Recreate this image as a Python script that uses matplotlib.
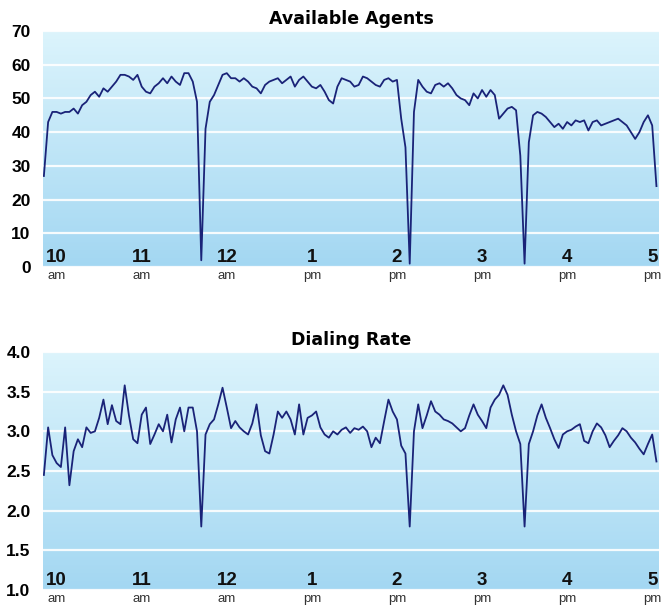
import numpy as np
import matplotlib
matplotlib.use("Agg")
import matplotlib.pyplot as plt
from matplotlib.colors import LinearSegmentedColormap

# sample times, minutes after 10:00 (one reading every 3 minutes)
minutes = list(range(-9, 426, 3))

agents = [27, 43, 46, 46, 45.5, 46, 46, 47, 45.5, 48,
          49, 51, 52, 50.5, 53, 52, 53.5, 55, 57, 57,
          56.5, 55.5, 57, 53.5, 52, 51.5, 53.5, 54.5, 56, 54.5,
          56.5, 55, 54, 57.5, 57.5, 55, 49, 2, 41, 49,
          51, 54, 57, 57.5, 56, 56, 55, 56, 55, 53.5,
          53, 51.5, 54, 55, 55.5, 56, 54.5, 55.5, 56.5, 53.5,
          55.5, 56.5, 55, 53.5, 53, 54, 52, 49.5, 48.5, 53.5,
          56, 55.5, 55, 53.5, 54, 56.5, 56, 55, 54, 53.5,
          55.5, 56, 55, 55.5, 44, 35.5, 1, 46, 55.5, 53.5,
          52, 51.5, 54, 54.5, 53.5, 54.5, 53, 51, 50, 49.5,
          48, 51.5, 50, 52.5, 50.5, 52.5, 51, 44, 45.5, 47,
          47.5, 46.5, 33, 1, 37, 45, 46, 45.5, 44.5, 43,
          41.5, 42.5, 41, 43, 42, 43.5, 43, 43.5, 40.5, 43,
          43.5, 42, 42.5, 43, 43.5, 44, 43, 42, 40, 38,
          40, 43, 45, 42, 24]

rate = [2.45, 3.05, 2.7, 2.6, 2.55, 3.05, 2.32, 2.75, 2.9, 2.8,
        3.05, 2.98, 3.0, 3.17, 3.4, 3.09, 3.33, 3.13, 3.09, 3.58,
        3.2, 2.9, 2.85, 3.21, 3.3, 2.84, 2.96, 3.09, 3.0, 3.21,
        2.86, 3.15, 3.3, 3.0, 3.3, 3.3, 3.0, 1.8, 2.96, 3.09,
        3.15, 3.34, 3.55, 3.3, 3.04, 3.13, 3.05, 3.0, 2.96, 3.1,
        3.34, 2.95, 2.75, 2.72, 2.96, 3.25, 3.17, 3.25, 3.15, 2.96,
        3.34, 2.96, 3.17, 3.2, 3.25, 3.05, 2.96, 2.92, 3.0, 2.96,
        3.02, 3.05, 2.98, 3.04, 3.02, 3.06, 3.0, 2.8, 2.92, 2.85,
        3.13, 3.4, 3.25, 3.15, 2.82, 2.72, 1.8, 3.0, 3.34, 3.04,
        3.2, 3.38, 3.25, 3.21, 3.15, 3.13, 3.1, 3.05, 3.0, 3.04,
        3.2, 3.34, 3.21, 3.13, 3.04, 3.3, 3.4, 3.46, 3.58, 3.46,
        3.21, 3.0, 2.84, 1.8, 2.84, 3.0, 3.2, 3.34, 3.17, 3.04,
        2.9, 2.79, 2.96, 3.0, 3.02, 3.06, 3.09, 2.88, 2.85, 3.0,
        3.1, 3.05, 2.95, 2.8, 2.88, 2.95, 3.04, 3.0, 2.92, 2.86,
        2.78, 2.71, 2.84, 2.96, 2.62]

hour_ticks = [10, 11, 12, 13, 14, 15, 16, 17]
hour_labels = ["10", "11", "12", "1", "2", "3", "4", "5"]
hour_suffix = ["am", "am", "am", "pm", "pm", "pm", "pm", "pm"]

hours = [10 + m / 60 for m in minutes]

LINE = "#1a2378"
bg = LinearSegmentedColormap.from_list("bg", ["#a3d7f2", "#dcf4fc"])
num_font = "Liberation Sans"

fig = plt.figure(figsize=(6.67, 6.07), dpi=100)
ax1 = fig.add_axes([0.0645, 0.5601, 0.9235, 0.3888])
ax2 = fig.add_axes([0.0645, 0.0280, 0.9235, 0.3921])


def style(ax, ylim, yticks, fmt, title):
    grad = np.linspace(0, 1, 256).reshape(-1, 1)
    ax.imshow(grad, cmap=bg, aspect="auto", origin="lower",
              extent=[0, 1, 0, 1], transform=ax.transAxes, zorder=0)
    ax.set_xlim(9.84, 17.08)
    ax.set_ylim(*ylim)
    ax.set_yticks(yticks)
    ax.set_yticklabels([fmt.format(v) for v in yticks],
                       fontfamily=num_font, fontweight="bold", fontsize=12.5)
    ax.tick_params(axis="y", length=0, pad=9)
    ax.set_xticks([])
    for s in ax.spines.values():
        s.set_visible(False)
    ax.set_axisbelow(True)
    ax.yaxis.grid(True, color="white", linewidth=1.6, alpha=0.9)
    ax.set_title(title, fontsize=12.5, fontweight="bold", pad=5)
    for h, lab, suf in zip(hour_ticks, hour_labels, hour_suffix):
        ax.text(h, 0.003, lab, transform=ax.get_xaxis_transform(),
                ha="center", va="bottom", fontfamily=num_font,
                fontweight="bold", fontsize=13.5, color="#111111")
        ax.text(h, -0.012, suf, transform=ax.get_xaxis_transform(),
                ha="center", va="top", fontfamily=num_font,
                fontsize=9.5, color="#333333", clip_on=False)


style(ax1, (0, 70), [0, 10, 20, 30, 40, 50, 60, 70], "{:.0f}", "Available Agents")
ax1.plot(hours, agents, color=LINE, linewidth=1.3, zorder=3)

style(ax2, (1.0, 4.0), [1.0, 1.5, 2.0, 2.5, 3.0, 3.5, 4.0], "{:.1f}", "Dialing Rate")
ax2.plot(hours, rate, color=LINE, linewidth=1.3, zorder=3)

fig.savefig("out.png", dpi=100)
